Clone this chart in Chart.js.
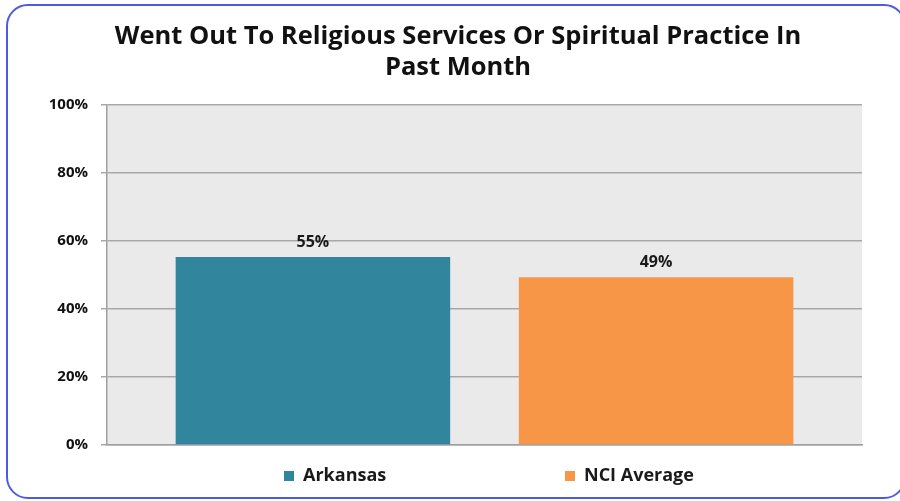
<!DOCTYPE html>
<html>
<head>
<meta charset="utf-8">
<script src="https://cdn.jsdelivr.net/npm/chart.js@4.4.0/dist/chart.umd.min.js"></script>
<style>
  html, body { margin: 0; padding: 0; background: #ffffff; overflow: hidden; }
  #wrap { position: relative; width: 900px; height: 501px; }
  #frame { position: absolute; left: 6px; top: 4px; width: 900px; height: 495px;
           border: 2px solid #4a5de2; border-radius: 22px; box-sizing: border-box; pointer-events: none; }
  canvas { position: absolute; left: 0; top: 0; }
</style>
</head>
<body>
<div id="wrap">
  <canvas id="c" width="900" height="501"></canvas>
  <div id="frame"></div>
</div>
<script>
const titleLines = ["Went Out To Religious Services Or Spiritual Practice In", "Past Month"];
const categories = ["Went out to religious services or spiritual practice"];
const seriesNames = ["Arkansas", "NCI Average"];
const arkansasValues = [55.3];
const nciValues = [49.4];
const seriesColors = ["#31859c", "#f79646"];
const yTicks = [0, 20, 40, 60, 80, 100];

const FONT = "'Open Sans', Lato, sans-serif";

const plotBg = {
  id: 'plotBg',
  beforeDraw(chart) {
    const a = chart.chartArea, ctx = chart.ctx;
    ctx.save();
    ctx.fillStyle = '#eaeaea';
    ctx.fillRect(a.left, a.top, a.right - a.left, a.bottom - a.top);
    ctx.restore();
  }
};

const valueLabels = {
  id: 'valueLabels',
  afterDatasetsDraw(chart) {
    const ctx = chart.ctx;
    ctx.save();
    ctx.font = "bold 16px " + FONT;
    ctx.fillStyle = '#1a1a1a';
    ctx.textAlign = 'center';
    ctx.textBaseline = 'alphabetic';
    chart.data.datasets.forEach((ds, i) => {
      const meta = chart.getDatasetMeta(i);
      meta.data.forEach((bar, j) => {
        ctx.fillText(Math.round(ds.data[j]) + '%', bar.x, bar.y - 10);
      });
    });
    ctx.restore();
  }
};

const customLegend = {
  id: 'customLegend',
  afterDraw(chart) {
    const ctx = chart.ctx;
    const starts = [284, 565];
    ctx.save();
    ctx.font = "bold 18px " + FONT;
    ctx.textBaseline = 'middle';
    ctx.textAlign = 'left';
    chart.data.datasets.forEach((ds, i) => {
      const x = starts[i], y = 476;
      ctx.fillStyle = ds.backgroundColor;
      ctx.fillRect(x, y - 5, 10, 10);
      ctx.fillStyle = '#1a1a1a';
      ctx.fillText(ds.label, x + 19, y);
    });
    ctx.restore();
  }
};

new Chart(document.getElementById('c'), {
  type: 'bar',
  data: {
    labels: categories,
    datasets: [
      { label: seriesNames[0], data: arkansasValues, backgroundColor: seriesColors[0] },
      { label: seriesNames[1], data: nciValues, backgroundColor: seriesColors[1] }
    ]
  },
  options: {
    responsive: false,
    animation: false,
    devicePixelRatio: 1,
    layout: { padding: { left: 16, right: 0, top: 0, bottom: 48 } },
    datasets: { bar: { categoryPercentage: 0.909, barPercentage: 0.8 } },
    plugins: {
      legend: { display: false },
      tooltip: { enabled: false },
      title: {
        display: true,
        text: titleLines,
        color: '#111111',
        font: { family: FONT, size: 25.5, weight: 'bold', lineHeight: 1.22 },
        padding: { top: 21, bottom: 22 }
      }
    },
    scales: {
      x: {
        grid: { display: false },
        ticks: { display: false },
        border: { display: true, color: '#a0a0a0', width: 1.5 }
      },
      y: {
        min: 0, max: 100,
        afterBuildTicks(scale) { scale.ticks = yTicks.map(v => ({ value: v })); },
        afterFit(scale) { scale.width = 91; },
        grid: { color: '#a8a8a8', lineWidth: 1.5, tickLength: 6, drawTicks: true },
        border: { display: true, color: '#a0a0a0', width: 1.5 },
        ticks: {
          padding: 13,
          color: '#111111',
          font: { family: FONT, size: 15, weight: 'bold' },
          callback: v => v + '%'
        }
      },
      pad: {
        type: 'linear', position: 'right', display: true,
        grid: { display: false }, border: { display: false },
        ticks: { display: false },
        afterFit(scale) { scale.width = 38; }
      }
    }
  },
  plugins: [plotBg, valueLabels, customLegend]
});
</script>
</body>
</html>
